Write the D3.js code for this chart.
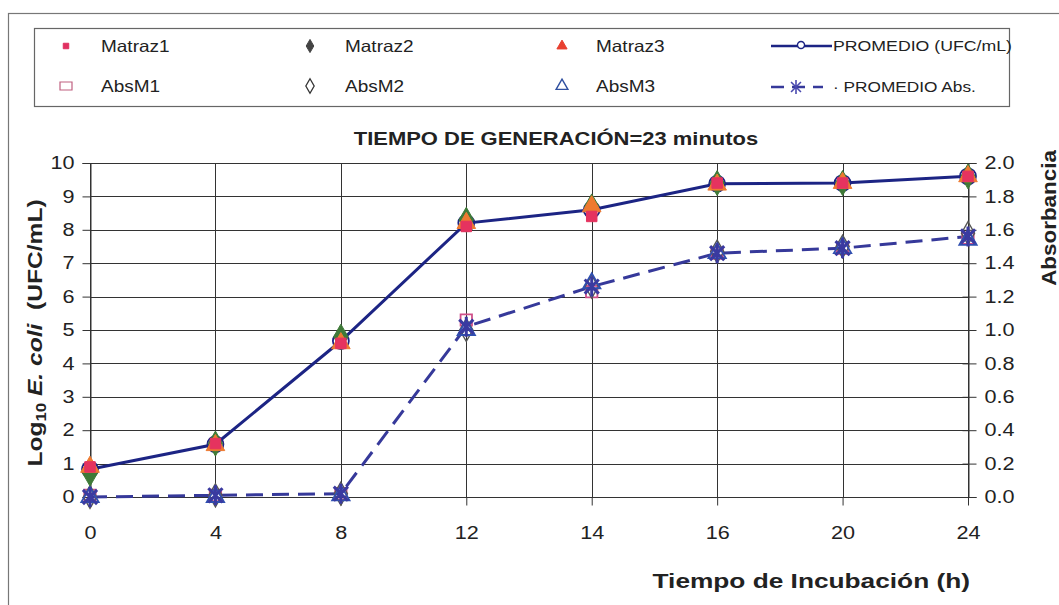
<!DOCTYPE html>
<html>
<head>
<meta charset="utf-8">
<script src="https://cdn.jsdelivr.net/npm/d3@7"></script>
<style>
  html, body { margin: 0; padding: 0; background: #fff; }
  svg { display: block; font-family: Arial, "Liberation Sans", sans-serif; }
</style>
</head>
<body>
<svg id="chart" width="1059" height="605"></svg>
<script>
// Incubation times (h)
const tiempos = ["0", "4", "8", "12", "14", "16", "20", "24"];

// Log10 E. coli counts (UFC/mL) per flask
const matraz1 = [0.9, 1.6, 4.6, 8.1, 8.4, 9.4, 9.4, 9.6];
const matraz2 = [0.7, 1.6, 4.8, 8.3, 8.7, 9.4, 9.4, 9.6];
const matraz3 = [0.9, 1.55, 4.6, 8.2, 8.7, 9.35, 9.4, 9.6];
const promedioUFC = [0.83, 1.58, 4.67, 8.2, 8.6, 9.38, 9.4, 9.6];

// Absorbance per flask
const absM1 = [0.01, 0.01, 0.02, 1.06, 1.23, 1.46, 1.49, 1.55];
const absM2 = [0.0, 0.01, 0.02, 1.0, 1.26, 1.47, 1.5, 1.58];
const absM3 = [0.0, 0.0, 0.01, 1.0, 1.28, 1.46, 1.49, 1.54];
const promedioAbs = [0.0, 0.01, 0.02, 1.02, 1.26, 1.46, 1.49, 1.56];

// Axis ticks
const ticksIzq = [0, 1, 2, 3, 4, 5, 6, 7, 8, 9, 10];
const ticksDer = [0, 0.2, 0.4, 0.6, 0.8, 1.0, 1.2, 1.4, 1.6, 1.8, 2.0];

const svg = d3.select("#chart");
const plot = { left: 90, right: 968, top: 163, bottom: 497 };
const navy = "#1c2484";
const navyDash = "#36399a";
const gridColor = "#333";
const ink = "#222";

// Widen glyphs horizontally (the typeface runs broad in this layout)
function widen(sel, f) {
  sel.each(function () {
    const L = this.getComputedTextLength();
    d3.select(this).attr("textLength", L * f).attr("lengthAdjust", "spacingAndGlyphs");
  });
}

const x = d3.scalePoint().domain(tiempos).range([plot.left, plot.right]).padding(0);
const yL = d3.scaleLinear().domain([0, 10]).range([plot.bottom, plot.top]);
const yR = d3.scaleLinear().domain([0, 2]).range([plot.bottom, plot.top]);

// Outer frame
svg.append("rect").attr("x", 8.5).attr("y", 13.5).attr("width", 1080).attr("height", 620)
  .attr("fill", "#fff").attr("stroke", "#777").attr("stroke-width", 1.2);

// Grid
const grid = svg.append("g");
grid.selectAll("line.h").data(ticksIzq).join("line")
  .attr("x1", plot.left).attr("x2", plot.right)
  .attr("y1", d => Math.round(yL(d)) + 0.5).attr("y2", d => Math.round(yL(d)) + 0.5)
  .attr("stroke", gridColor).attr("stroke-width", 1);
grid.selectAll("line.v").data(tiempos).join("line")
  .attr("y1", plot.top).attr("y2", plot.bottom)
  .attr("x1", d => Math.round(x(d)) + 0.5).attr("x2", d => Math.round(x(d)) + 0.5)
  .attr("stroke", gridColor).attr("stroke-width", 1);

// Axes
const tickFont = 18;
const axL = svg.append("g").attr("transform", `translate(${plot.left + 0.5},0)`)
  .call(d3.axisLeft(yL).tickValues(ticksIzq).tickSize(8).tickPadding(8).tickFormat(d3.format("d")));
const axR = svg.append("g").attr("transform", `translate(${plot.right + 0.5},0)`)
  .call(d3.axisRight(yR).tickValues(ticksDer).tickSize(8).tickPadding(8).tickFormat(d3.format(".1f")));
axR.selectAll(".tick line").attr("x1", -6);
const axB = svg.append("g").attr("transform", `translate(0,${plot.bottom + 0.5})`)
  .call(d3.axisBottom(x).tickSize(8).tickPadding(21));
[axL, axR, axB].forEach(a => {
  a.select(".domain").attr("stroke", gridColor);
  a.selectAll(".tick line").attr("stroke", gridColor);
  a.selectAll(".tick text").attr("font-size", tickFont).attr("fill", ink)
    .attr("font-family", "Arial, 'Liberation Sans', sans-serif");
  widen(a.selectAll(".tick text"), 1.2);
});
axB.select(".domain").remove();

// Marker shapes
function starPath(r) {
  const d = r * 0.7071;
  return `M${-d},${-d}L${d},${d}M${-d},${d}L${d},${-d}M0,${-r}L0,${r}`;
}
const sym = (type, size) => d3.symbol().type(type).size(size)();

// Series lines
const lineL = d3.line().x((d, i) => x(tiempos[i])).y(d => yL(d));
const lineR = d3.line().x((d, i) => x(tiempos[i])).y(d => yR(d));

svg.append("path").datum(promedioAbs).attr("d", lineR)
  .attr("fill", "none").attr("stroke", navyDash).attr("stroke-width", 3)
  .attr("stroke-dasharray", "17,9");
svg.append("path").datum(promedioUFC).attr("d", lineL)
  .attr("fill", "none").attr("stroke", navy).attr("stroke-width", 3);

function drawPoints(data, scale, shape, fill, stroke, sw) {
  svg.append("g").selectAll("path").data(data).join("path")
    .attr("transform", (d, i) => `translate(${x(tiempos[i])},${scale(d)})`)
    .attr("d", shape).attr("fill", fill).attr("stroke", stroke).attr("stroke-width", sw);
}

// Absorbance markers
drawPoints(absM1, yR, sym(d3.symbolSquare, 130), "none", "#d0508a", 1.8);
drawPoints(absM2, yR, sym(d3.symbolDiamond, 150), "none", "#555", 1.4);
drawPoints(absM3, yR, sym(d3.symbolTriangle, 130), "none", "#3050b0", 1.8);
drawPoints(promedioAbs, yR, starPath(10), "none", "#3a3aa0", 3);

// Count markers
drawPoints(promedioUFC, yL, sym(d3.symbolCircle, 200), "none", navy, 1.8);
drawPoints(matraz2, yL, sym(d3.symbolDiamond, 180), "#3f7a38", "#3f7a38", 1);
drawPoints(matraz3, yL, sym(d3.symbolTriangle, 150), "#ee7a30", "#ee7a30", 1);
drawPoints(matraz1, yL, sym(d3.symbolSquare, 110), "#e5335f", "#e5335f", 1);

// Legend
const leg = svg.append("g");
leg.append("rect").attr("x", 34.5).attr("y", 28.5).attr("width", 975).attr("height", 78)
  .attr("fill", "#fff").attr("stroke", "#666").attr("stroke-width", 1.2);
const legendItems = [
  { label: "Matraz1", col: 0, row: 0, shape: sym(d3.symbolSquare, 30), fill: "#e03060", stroke: "#e03060", sw: 1 },
  { label: "Matraz2", col: 1, row: 0, shape: sym(d3.symbolDiamond, 50), fill: "#444", stroke: "#444", sw: 1 },
  { label: "Matraz3", col: 2, row: 0, shape: sym(d3.symbolTriangle, 45), fill: "#e84030", stroke: "#e84030", sw: 1 },
  { label: "AbsM1", col: 0, row: 1, shape: "M-6,-4H6V4H-6Z", fill: "none", stroke: "#c06080", sw: 1.2 },
  { label: "AbsM2", col: 1, row: 1, shape: sym(d3.symbolDiamond, 60), fill: "none", stroke: "#333", sw: 1.3 },
  { label: "AbsM3", col: 2, row: 1, shape: sym(d3.symbolTriangle, 60), fill: "none", stroke: "#3050a0", sw: 1.4 }
];
const colX = [66, 310, 562];
const rowY = [46, 86];
const textX = [101, 345, 596];
legendItems.forEach(it => {
  leg.append("path").attr("transform", `translate(${colX[it.col]},${rowY[it.row]})`)
    .attr("d", it.shape).attr("fill", it.fill).attr("stroke", it.stroke).attr("stroke-width", it.sw);
  const t = leg.append("text").attr("x", textX[it.col]).attr("y", rowY[it.row] + 6)
    .attr("font-size", 16.5).attr("fill", ink).text(it.label);
  widen(t, 1.15);
});
// Average series entries
leg.append("line").attr("x1", 771).attr("x2", 832).attr("y1", 46).attr("y2", 46)
  .attr("stroke", navy).attr("stroke-width", 2.5);
leg.append("path").attr("transform", "translate(801,45)").attr("d", sym(d3.symbolCircle, 40))
  .attr("fill", "#fff").attr("stroke", navy).attr("stroke-width", 1.4);
widen(leg.append("text").attr("x", 833).attr("y", 51).attr("font-size", 15).attr("fill", ink)
  .text("PROMEDIO (UFC/mL)"), 1.18);
leg.append("line").attr("x1", 771).attr("x2", 823).attr("y1", 87).attr("y2", 87)
  .attr("stroke", navyDash).attr("stroke-width", 2.5).attr("stroke-dasharray", "13,8");
leg.append("path").attr("transform", "translate(796,87)").attr("d", starPath(7))
  .attr("fill", "none").attr("stroke", "#4a4ab0").attr("stroke-width", 1.6);
widen(leg.append("text").attr("x", 833).attr("y", 92).attr("font-size", 15).attr("fill", ink)
  .text("· PROMEDIO Abs."), 1.15);

// Title
widen(svg.append("text").attr("x", 556).attr("y", 145).attr("text-anchor", "middle")
  .attr("font-size", 18).attr("font-weight", "bold").attr("fill", ink)
  .text("TIEMPO DE GENERACIÓN=23 minutos"), 1.22);

// Axis titles
const yTitle = svg.append("text").attr("transform", "translate(42,333) rotate(-90) scale(1.2,1)")
  .attr("text-anchor", "middle").attr("font-size", 20.5).attr("font-weight", "bold").attr("fill", ink);
yTitle.append("tspan").text("Log");
yTitle.append("tspan").attr("font-size", 14).attr("dy", 4).text("10");
yTitle.append("tspan").attr("dy", -4).text(" ");
yTitle.append("tspan").attr("font-style", "italic").text("E. coli");
yTitle.append("tspan").text("\u00a0\u00a0(UFC/mL)");

svg.append("text").attr("transform", "translate(1056,218) rotate(-90) scale(1.15,1)")
  .attr("text-anchor", "middle").attr("font-size", 19.5).attr("font-weight", "bold").attr("fill", ink)
  .text("Absorbancia");

widen(svg.append("text").attr("x", 970).attr("y", 588).attr("text-anchor", "end")
  .attr("font-size", 21).attr("font-weight", "bold").attr("fill", ink)
  .text("Tiempo de Incubación (h)"), 1.25);
</script>
</body>
</html>
